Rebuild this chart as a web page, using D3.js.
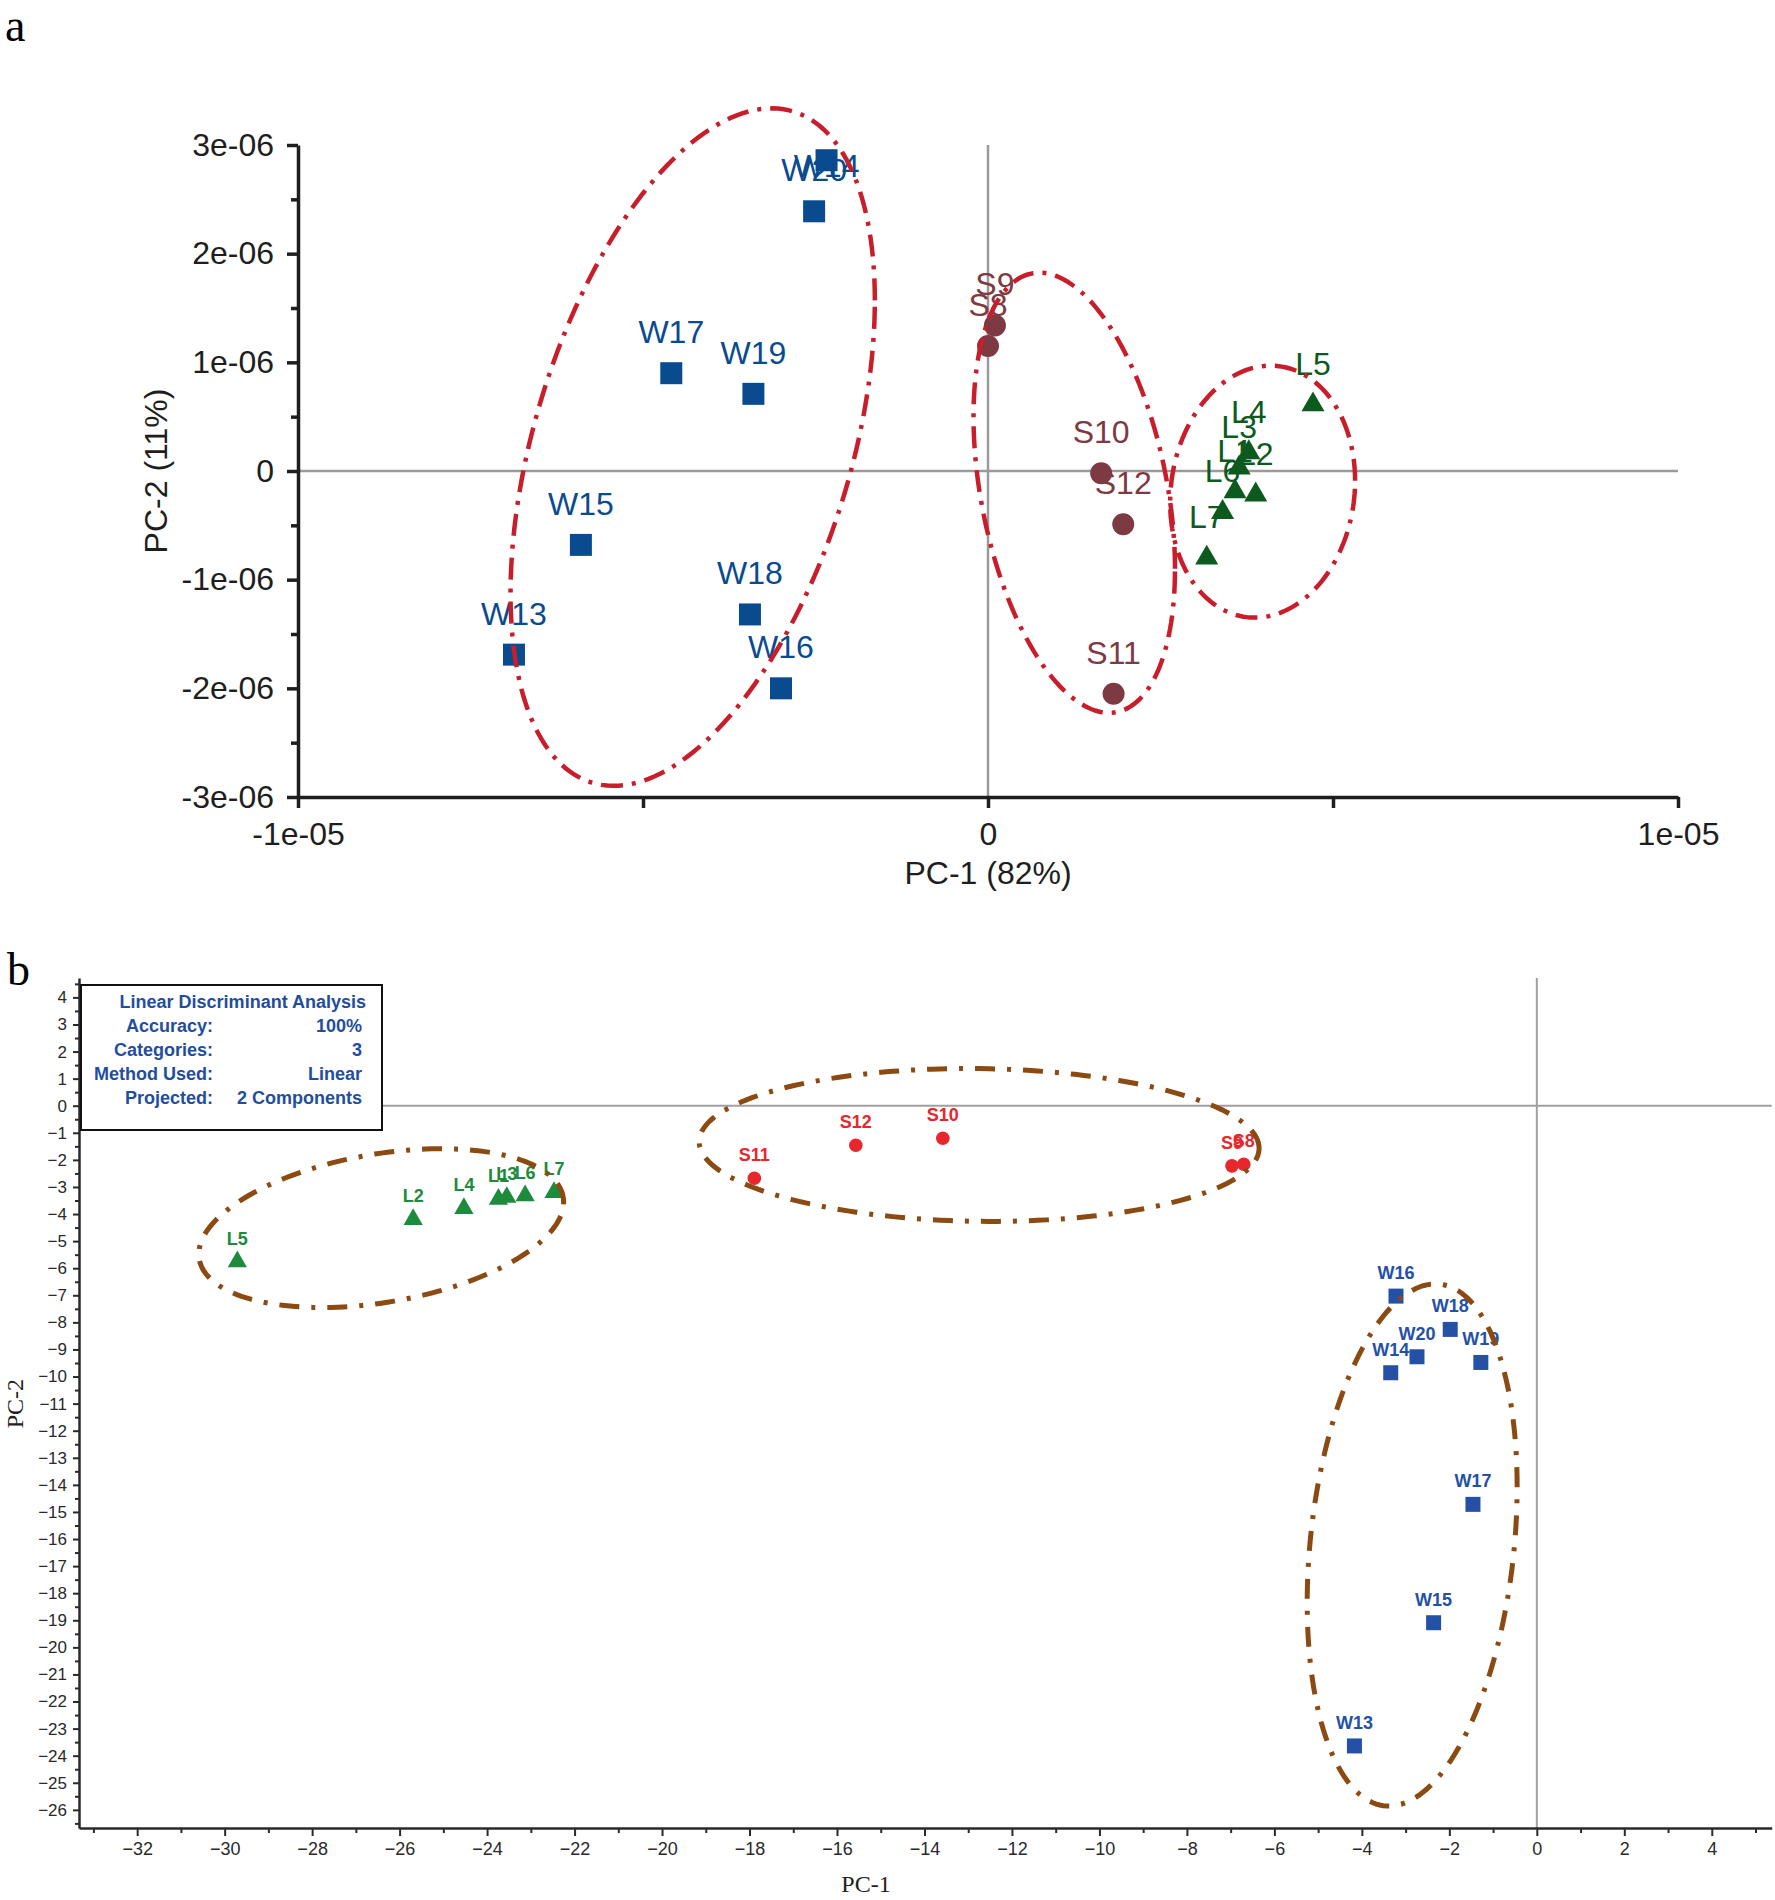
<!DOCTYPE html>
<html>
<head>
<meta charset="utf-8">
<script src="https://cdn.jsdelivr.net/npm/d3@7"></script>
<style>
  body { margin: 0; background: #fff; }
</style>
</head>
<body>
<div id="chart"></div>
<script>
// ---------- Panel a: PCA scores [label, PC-1, PC-2] ----------
const pcaW = [
  ["W13", -6.87e-6, -1.69e-6], ["W14", -2.34e-6, 2.86e-6], ["W15", -5.90e-6, -0.68e-6],
  ["W16", -3.00e-6, -2.00e-6], ["W17", -4.59e-6, 0.90e-6], ["W18", -3.45e-6, -1.32e-6],
  ["W19", -3.40e-6, 0.71e-6], ["W20", -2.52e-6, 2.39e-6]
];
const pcaS = [
  ["S8", 0.00e-6, 1.15e-6], ["S9", 0.10e-6, 1.34e-6], ["S10", 1.64e-6, -0.02e-6],
  ["S11", 1.82e-6, -2.05e-6], ["S12", 1.96e-6, -0.49e-6]
];
const pcaL = [
  ["L1", 3.58e-6, -0.19e-6], ["L2", 3.88e-6, -0.22e-6], ["L3", 3.64e-6, 0.03e-6],
  ["L4", 3.78e-6, 0.17e-6], ["L5", 4.71e-6, 0.61e-6], ["L6", 3.40e-6, -0.38e-6],
  ["L7", 3.17e-6, -0.80e-6]
];
// group ellipses: [cx, cy, ux, uy, vx, vy] (centre + two conjugate semi-axes)
const pcaEllipses = [
  [-4.28e-6, 0.22e-6, 2.64e-6, 1.35e-6, 0, 2.81e-6],
  [1.25e-6, -0.20e-6, 1.46e-6, -0.70e-6, 0, 1.90e-6],
  [3.98e-6, -0.19e-6, 1.34e-6, 0.10e-6, 0, 1.155e-6]
];
const pcaXTicks = [-1e-5, -5e-6, 0, 5e-6, 1e-5];
const pcaXLabels = [-1e-5, 0, 1e-5];
const pcaYTicks = [-3e-6, -2e-6, -1e-6, 0, 1e-6, 2e-6, 3e-6];
const pcaYMinor = [-2.5e-6, -1.5e-6, -0.5e-6, 0.5e-6, 1.5e-6, 2.5e-6];

// ---------- Panel b: LDA scores [label, PC-1, PC-2] ----------
const ldaL = [
  ["L1", -23.74, -3.45], ["L2", -25.69, -4.20], ["L3", -23.55, -3.38], ["L4", -24.53, -3.79],
  ["L5", -29.71, -5.76], ["L6", -23.13, -3.32], ["L7", -22.47, -3.20]
];
const ldaS = [
  ["S8", -6.70, -2.16], ["S9", -6.97, -2.22], ["S10", -13.58, -1.20],
  ["S11", -17.89, -2.68], ["S12", -15.57, -1.46]
];
const ldaW = [
  ["W13", -4.17, -23.64], ["W14", -3.34, -9.86], ["W15", -2.36, -19.09], ["W16", -3.22, -7.03],
  ["W17", -1.46, -14.72], ["W18", -1.98, -8.26], ["W19", -1.28, -9.48], ["W20", -2.74, -9.27]
];
const ldaEllipses = [
  [-26.42, -4.52, 4.17, 0.96, 0, 2.77],
  [-12.75, -1.45, 6.40, -0.12, 0, 2.82],
  [-2.85, -16.22, 2.40, 2.14, 0, 9.40]
];
const ldaXTicks = [-32, -30, -28, -26, -24, -22, -20, -18, -16, -14, -12, -10, -8, -6, -4, -2, 0, 2, 4];
const ldaXMinor = [-33, -31, -29, -27, -25, -23, -21, -19, -17, -15, -13, -11, -9, -7, -5, -3, -1, 1, 3, 5];
const ldaYTicks = [4, 3, 2, 1, 0, -1, -2, -3, -4, -5, -6, -7, -8, -9, -10, -11, -12, -13, -14, -15,
  -16, -17, -18, -19, -20, -21, -22, -23, -24, -25, -26];
const ldaLegendRows = [
  ["Accuracy:", "100%"], ["Categories:", "3"], ["Method Used:", "Linear"], ["Projected:", "2 Components"]
];

const sans = "'Liberation Sans', Arial, sans-serif";
const serif = "'Liberation Serif', 'Times New Roman', serif";

const svg = d3.select("#chart")
  .append("svg")
  .attr("width", 1775)
  .attr("height", 1900);

function ellipsePath(e, x, y) {
  const pts = d3.range(0, 2 * Math.PI, Math.PI / 90).map(t => [
    x(e[0] + e[2] * Math.cos(t) + e[4] * Math.sin(t)),
    y(e[1] + e[3] * Math.cos(t) + e[5] * Math.sin(t))
  ]);
  return d3.line().curve(d3.curveLinearClosed)(pts);
}

function drawGroup(g, data, x, y, type, size, color, font, labelGap, labelTop) {
  g.selectAll(null)
    .data(data)
    .enter()
    .append("path")
    .attr("transform", d => `translate(${x(d[1])},${y(d[2])})`)
    .attr("d", d3.symbol().type(type).size(size))
    .attr("fill", color);

  g.selectAll(null)
    .data(data)
    .enter()
    .append("text")
    .attr("x", d => x(d[1]))
    .attr("y", d => Math.max(y(d[2]) - labelGap, labelTop))
    .attr("text-anchor", "middle")
    .attr("font-family", sans)
    .attr("font-size", font.size)
    .attr("font-weight", font.weight)
    .attr("fill", color)
    .text(d => d[0]);
}

// ================= Panel a =================
const xa = d3.scaleLinear().domain([-1e-5, 1e-5]).range([298, 1678]);
const ya = d3.scaleLinear().domain([-3e-6, 3e-6]).range([797, 145]);
const fmtE = d => d === 0 ? "0" : d.toExponential(0).replace(/e([+-])(\d)$/, "e$10$2");
const fontA = { size: 32, weight: "normal" };

const ga = svg.append("g");

// zero lines
ga.append("line")
  .attr("x1", xa(0)).attr("x2", xa(0))
  .attr("y1", ya(3e-6)).attr("y2", ya(-3e-6))
  .attr("stroke", "#9a9a9a").attr("stroke-width", 2.5);
ga.append("line")
  .attr("x1", xa(-1e-5)).attr("x2", xa(1e-5))
  .attr("y1", ya(0)).attr("y2", ya(0))
  .attr("stroke", "#9a9a9a").attr("stroke-width", 2.5);

// axes
const ayMinor = ga.append("g")
  .attr("transform", `translate(${xa(-1e-5)},0)`)
  .call(d3.axisLeft(ya).tickValues(pcaYMinor).tickSize(7).tickFormat(""));
ayMinor.select(".domain").remove();

const ay = ga.append("g")
  .attr("transform", `translate(${xa(-1e-5)},0)`)
  .call(d3.axisLeft(ya).tickValues(pcaYTicks).tickSize(11).tickSizeOuter(0).tickPadding(13).tickFormat(fmtE));

const ax = ga.append("g")
  .attr("transform", `translate(0,${ya(-3e-6)})`)
  .call(d3.axisBottom(xa).tickValues(pcaXTicks).tickSize(11).tickSizeOuter(0).tickPadding(14)
    .tickFormat(d => pcaXLabels.includes(d) ? fmtE(d) : ""));

[ay, ax, ayMinor].forEach(a => {
  a.attr("font-family", sans).attr("font-size", fontA.size);
  a.selectAll("path, line").attr("stroke", "#1e1e1e").attr("stroke-width", 3.5);
  a.selectAll("text").attr("fill", "#1e1e1e");
});

// points
drawGroup(ga, pcaW, xa, ya, d3.symbolSquare, 484, "#0a4a8e", fontA, 30, 177);
drawGroup(ga, pcaS, xa, ya, d3.symbolCircle, 380, "#7e3a43", fontA, 30, 177);
drawGroup(ga, pcaL, xa, ya, d3.symbolTriangle, 230, "#0d5a1f", fontA, 30, 177);

// ellipses
ga.selectAll(null)
  .data(pcaEllipses)
  .enter()
  .append("path")
  .attr("d", e => ellipsePath(e, xa, ya))
  .attr("fill", "none")
  .attr("stroke", "#c81e2b")
  .attr("stroke-width", 4.5)
  .attr("stroke-dasharray", "22 9 4 9");

// titles
ga.append("text")
  .attr("x", xa(0))
  .attr("y", 884)
  .attr("text-anchor", "middle")
  .attr("font-family", sans)
  .attr("font-size", fontA.size)
  .attr("fill", "#1e1e1e")
  .text("PC-1 (82%)");

ga.append("text")
  .attr("transform", `translate(167,${ya(0)}) rotate(-90)`)
  .attr("text-anchor", "middle")
  .attr("font-family", sans)
  .attr("font-size", fontA.size)
  .attr("fill", "#1e1e1e")
  .text("PC-2 (11%)");

svg.append("text")
  .attr("x", 5)
  .attr("y", 41)
  .attr("font-family", serif)
  .attr("font-size", 46)
  .text("a");

// ================= Panel b =================
const xb = d3.scaleLinear().domain([-33.33, 5.37]).range([79, 1771.7]);
const yb = d3.scaleLinear().domain([-26.67, 4.716]).range([1828, 978]);
const fontB = { size: 18, weight: "bold" };

const gb = svg.append("g");

gb.append("line")
  .attr("x1", xb(0)).attr("x2", xb(0))
  .attr("y1", yb(4.716)).attr("y2", yb(-26.67))
  .attr("stroke", "#a0a0a0").attr("stroke-width", 2);
gb.append("line")
  .attr("x1", xb(-33.33)).attr("x2", xb(5.37))
  .attr("y1", yb(0)).attr("y2", yb(0))
  .attr("stroke", "#a0a0a0").attr("stroke-width", 2);

const byMinor = gb.append("g")
  .attr("transform", `translate(${xb(-33.33)},0)`)
  .call(d3.axisLeft(yb).tickValues(ldaYTicks.map(d => d + 0.5).concat([-26.5])).tickSize(4).tickFormat(""));
byMinor.select(".domain").remove();

const bxMinor = gb.append("g")
  .attr("transform", `translate(0,${yb(-26.67)})`)
  .call(d3.axisBottom(xb).tickValues(ldaXMinor).tickSize(5).tickFormat(""));
bxMinor.select(".domain").remove();

const by = gb.append("g")
  .attr("transform", `translate(${xb(-33.33)},0)`)
  .call(d3.axisLeft(yb).tickValues(ldaYTicks).tickSize(6).tickSizeOuter(0).tickPadding(6));

const bx = gb.append("g")
  .attr("transform", `translate(0,${yb(-26.67)})`)
  .call(d3.axisBottom(xb).tickValues(ldaXTicks).tickSize(8).tickSizeOuter(0).tickPadding(6));

[by, byMinor].forEach(a => a.attr("font-size", 17));
[bx, bxMinor].forEach(a => a.attr("font-size", 18));
[by, bx, byMinor, bxMinor].forEach(a => {
  a.attr("font-family", sans);
  a.selectAll("path, line").attr("stroke", "#2a2a2a").attr("stroke-width", 2);
  a.selectAll("text").attr("fill", "#2a2a2a");
});
by.select(".domain").attr("stroke-width", 2.5);
bx.select(".domain").attr("stroke-width", 2.5);

drawGroup(gb, ldaL, xb, yb, d3.symbolTriangle, 160, "#1e8a3c", fontB, 17, 0);
drawGroup(gb, ldaS, xb, yb, d3.symbolCircle, 145, "#e8262c", fontB, 17, 0);
drawGroup(gb, ldaW, xb, yb, d3.symbolSquare, 225, "#2451a6", fontB, 17, 0);

gb.selectAll(null)
  .data(ldaEllipses)
  .enter()
  .append("path")
  .attr("d", e => ellipsePath(e, xb, yb))
  .attr("fill", "none")
  .attr("stroke", "#8a4a12")
  .attr("stroke-width", 5)
  .attr("stroke-dasharray", "20 12 4 12");

// info box
const box = gb.append("g")
  .attr("font-family", sans)
  .attr("font-size", 18)
  .attr("font-weight", "bold")
  .attr("fill", "#1f4e9e");

box.append("rect")
  .attr("x", 81).attr("y", 985)
  .attr("width", 301).attr("height", 145)
  .attr("fill", "#fff")
  .attr("stroke", "#111")
  .attr("stroke-width", 2);

box.append("text")
  .attr("x", 366).attr("y", 1008)
  .attr("text-anchor", "end")
  .text("Linear Discriminant Analysis");

ldaLegendRows.forEach((r, i) => {
  box.append("text")
    .attr("x", 213).attr("y", 1032 + i * 24)
    .attr("text-anchor", "end")
    .text(r[0]);
  box.append("text")
    .attr("x", 362).attr("y", 1032 + i * 24)
    .attr("text-anchor", "end")
    .text(r[1]);
});

gb.append("text")
  .attr("x", 866)
  .attr("y", 1892)
  .attr("text-anchor", "middle")
  .attr("font-family", serif)
  .attr("font-size", 24)
  .attr("fill", "#222")
  .text("PC-1");

gb.append("text")
  .attr("transform", `translate(23,${yb(-11)}) rotate(-90)`)
  .attr("text-anchor", "middle")
  .attr("font-family", serif)
  .attr("font-size", 24)
  .attr("fill", "#222")
  .text("PC-2");

svg.append("text")
  .attr("x", 7)
  .attr("y", 985)
  .attr("font-family", serif)
  .attr("font-size", 46)
  .text("b");
</script>
</body>
</html>
